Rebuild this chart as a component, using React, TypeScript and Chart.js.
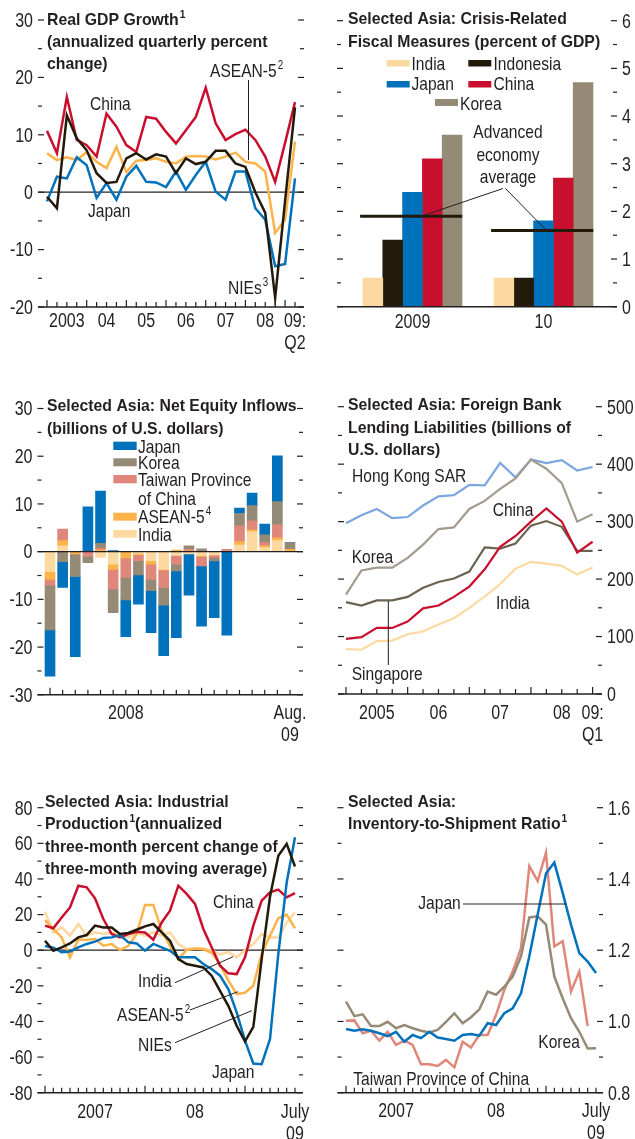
import { useEffect, useRef } from "react";
import { Chart, registerables } from "chart.js";

Chart.register(...registerables);

const SANS = "'Liberation Sans', Arial, sans-serif";
const NARROW_SCALE = 0.82;
const TITLE_SCALE = 0.93;
const INK = "#231f20";

const RED = "#c8102e";
const BLUE = "#0072bc";
const ORANGE = "#fcb34a";
const BLACK = "#231a0c";
const PEACH = "#fdd9a2";
const KOREA = "#958a76";
const TAIWAN = "#e0877b";
const HK = "#7ba7de";
const SING = "#6b6352";
const KOREA_LT = "#a39b8d";

// ---------- Panel 1: Real GDP growth ----------
const gdpQuarters = [
  "2003:Q1", "2003:Q2", "2003:Q3", "2003:Q4", "2004:Q1", "2004:Q2", "2004:Q3", "2004:Q4",
  "2005:Q1", "2005:Q2", "2005:Q3", "2005:Q4", "2006:Q1", "2006:Q2", "2006:Q3", "2006:Q4",
  "2007:Q1", "2007:Q2", "2007:Q3", "2007:Q4", "2008:Q1", "2008:Q2", "2008:Q3", "2008:Q4",
  "2009:Q1", "2009:Q2",
];
const gdpChina = [10.7, 6.8, 16.6, 9.1, 8.2, 6.2, 13.7, 11.4, 8.2, 7.0, 13.1, 12.8, 10.5, 8.5, 10.8, 13.1, 18.2, 12.0, 9.1, 10.1, 10.9, 9.1, 6.2, 1.8, 8.6, 15.7];
const gdpAsean5 = [6.8, 5.6, 6.1, 5.6, 7.0, 5.3, 4.2, 7.9, 3.5, 5.5, 5.6, 5.9, 5.3, 5.0, 6.2, 6.3, 6.2, 5.7, 6.2, 6.9, 5.3, 5.0, 3.6, -7.1, -4.8, 8.8];
const gdpJapan = [-1.6, 2.7, 2.4, 6.1, 4.7, -1.0, 1.6, -1.3, 2.7, 4.6, 1.8, 1.7, 0.9, 3.6, 0.4, 3.0, 5.3, 0.1, -1.3, 3.6, 3.6, -2.8, -4.8, -12.9, -12.5, 2.4];
const gdpNIEs = [-0.8, -2.8, 13.4, 9.4, 7.3, 3.3, 1.6, 1.8, 5.9, 6.8, 5.7, 6.6, 6.2, 3.3, 5.9, 4.9, 5.3, 7.2, 7.2, 5.0, 4.4, 0.0, -3.6, -18.4, -1.5, 14.8];
const gdpYTicks = [-20, -10, 0, 10, 20, 30];
const gdpXLabels = [
  { at: "2003:Q3", text: ["2003"] }, { at: "2004:Q3", text: ["04"] }, { at: "2005:Q3", text: ["05"] },
  { at: "2006:Q3", text: ["06"] }, { at: "2007:Q3", text: ["07"] }, { at: "2008:Q3", text: ["08"] },
  { at: "2009:Q2", text: ["09:", "Q2"] },
];

// ---------- Panel 2: Fiscal measures ----------
const fiscalYears = ["2009", "10"];
const fiscalIndia = [0.6, 0.6];
const fiscalIndonesia = [1.4, 0.6];
const fiscalJapan = [2.4, 1.8];
const fiscalChina = [3.1, 2.7];
const fiscalKorea = [3.6, 4.7];
const fiscalAdvAvg = [1.9, 1.6];
const fiscalYTicks = [0, 1, 2, 3, 4, 5, 6];

// ---------- Panel 3: Net equity inflows ----------
const eqMonths = [
  "Jan 2008", "Feb 2008", "Mar 2008", "Apr 2008", "May 2008", "Jun 2008", "Jul 2008", "Aug 2008",
  "Sep 2008", "Oct 2008", "Nov 2008", "Dec 2008", "Jan 2009", "Feb 2009", "Mar 2009", "Apr 2009",
  "May 2009", "Jun 2009", "Jul 2009", "Aug 2009",
];
const eqIndia = [-4.2, 1.2, 0, 0, -1.2, -2.6, 0, -0.35, -1.9, -3.7, -0.8, -0.5, -0.8, -0.7, 0, 1.4, 4.2, 0.85, 2.3, 0];
const eqAsean5 = [-1.6, 1.1, -0.5, 0, 0.35, -1.1, -1.3, -0.35, -0.7, -0.15, 0.35, 0.15, -0.2, 0, 0, 0.7, 0.35, 0.35, 0.6, 0.5];
const eqTaiwan = [-1.2, 2.45, 0, -1.0, 0.35, -4.1, -4.1, -1.2, -3.2, -3.7, -1.8, 0.35, -2.0, -0.5, 0.5, 3.3, 1.9, 0.7, 2.7, 0];
const eqKorea = [-9.4, -2.1, -4.7, -1.3, 1.05, -5.0, -4.7, -3.0, -2.4, -3.65, -1.45, 0.7, 0.6, -0.75, 0, 2.6, 3.2, 1.6, 4.9, 1.4];
const eqJapan = [-9.7, -5.4, -16.8, 9.4, 10.95, 0.2, -7.7, -6.1, -8.8, -10.6, -14.0, -8.6, -12.6, -11.9, -17.5, 1.15, 2.6, 2.3, 9.6, 0];
const eqYTicks = [-30, -20, -10, 0, 10, 20, 30];
const eqXLabels = [{ at: "Jul 2008", text: ["2008"] }, { at: "Aug 2009", text: ["Aug.", "09"] }];

// ---------- Panel 4: Foreign bank lending liabilities ----------
const lendQuarters = [
  "2005:Q1", "2005:Q2", "2005:Q3", "2005:Q4", "2006:Q1", "2006:Q2", "2006:Q3", "2006:Q4",
  "2007:Q1", "2007:Q2", "2007:Q3", "2007:Q4", "2008:Q1", "2008:Q2", "2008:Q3", "2008:Q4", "2009:Q1",
];
const lendHongKong = [297, 311, 322, 306, 308, 328, 344, 346, 364, 363, 402, 377, 408, 402, 407, 389, 395];
const lendKorea = [173, 215, 220, 220, 237, 260, 287, 290, 322, 336, 357, 375, 408, 392, 367, 300, 313];
const lendChina = [96, 99, 115, 115, 126, 149, 154, 169, 187, 217, 256, 275, 300, 323, 300, 246, 265];
const lendSingapore = [160, 154, 163, 163, 169, 185, 195, 201, 213, 255, 253, 262, 293, 301, 291, 249, 249];
const lendIndia = [78, 77, 92, 93, 104, 109, 121, 132, 150, 170, 191, 218, 230, 227, 223, 208, 220];
const lendYTicks = [0, 100, 200, 300, 400, 500];
const lendXLabels = [
  { at: "2005:Q3", text: ["2005"] }, { at: "2006:Q3", text: ["06"] }, { at: "2007:Q3", text: ["07"] },
  { at: "2008:Q3", text: ["08"] }, { at: "2009:Q1", text: ["09:", "Q1"] },
];

// ---------- Panels 5 & 6: monthly ----------
const months0709 = [
  "Jan 2007", "Feb 2007", "Mar 2007", "Apr 2007", "May 2007", "Jun 2007", "Jul 2007", "Aug 2007",
  "Sep 2007", "Oct 2007", "Nov 2007", "Dec 2007", "Jan 2008", "Feb 2008", "Mar 2008", "Apr 2008",
  "May 2008", "Jun 2008", "Jul 2008", "Aug 2008", "Sep 2008", "Oct 2008", "Nov 2008", "Dec 2008",
  "Jan 2009", "Feb 2009", "Mar 2009", "Apr 2009", "May 2009", "Jun 2009", "Jul 2009",
];
const monthXLabels = [{ at: "Jul 2007", text: ["2007"] }, { at: "Jul 2008", text: ["08"] }, { at: "Jul 2009", text: ["July", "09"] }];

const ipChina = [13.8, 12.3, 18.4, 24.0, 36.2, 35.3, 29.1, 17.5, 9.1, 7.2, 9.1, 10.4, 9.9, 5.9, 15.6, 22.2, 36.2, 31.6, 26.0, 11.9, 1.6, -8.7, -13.0, -13.4, -4.0, 13.8, 27.8, 32.5, 34.0, 29.7, 32.1];
const ipIndia = [21.6, 10.0, 12.8, 8.1, 14.7, 8.1, 10.0, 9.1, 10.0, 9.1, 7.2, 10.0, 8.1, 10.0, 8.1, 10.0, 3.5, 0.7, 1.0, 1.0, 0.1, -2.5, -1.0, -4.0, 0.0, 3.5, 9.1, 7.2, 7.2, 15.6, 21.2];
const ipAsean5 = [16.9, 11.9, 7.2, -4.0, 5.9, 5.9, 6.3, 2.5, 3.5, 0.1, 2.5, 9.1, 25.4, 25.4, 11.0, 2.5, -5.0, 0.1, 1.0, 0.5, -1.5, -7.8, -17.1, -24.6, -23.9, -20.0, -2.0, 8.1, 17.9, 20.0, 12.3];
const ipNIEs = [5.3, -0.3, 1.6, 3.8, 7.2, 8.5, 13.8, 12.8, 12.8, 9.1, 9.7, 11.5, 13.4, 14.7, 10.0, 5.3, -5.0, -7.8, -8.7, -9.7, -14.3, -22.8, -31.2, -42.4, -51.2, -43.0, -5.0, 30.0, 53.0, 59.7, 47.0];
const ipJapan = [2.4, 1.4, -1.2, -0.7, 1.6, 3.5, 4.8, 6.9, 7.2, 8.5, 4.4, 3.8, -0.3, 3.5, 1.6, -0.3, -4.0, -4.0, -4.0, -7.8, -10.6, -14.3, -21.8, -34.9, -50.8, -63.6, -64.0, -49.9, -2.0, 38.0, 63.4];
const ipYTicks = [-80, -60, -40, -20, 0, 20, 40, 60, 80];

const invJapan = [0.979, 0.974, 0.978, 0.974, 0.967, 0.959, 0.971, 0.943, 0.962, 0.953, 0.971, 0.955, 0.951, 0.946, 0.962, 0.965, 0.96, 0.995, 0.99, 1.023, 1.037, 1.079, 1.183, 1.3, 1.415, 1.446, 1.361, 1.272, 1.192, 1.168, 1.136];
const invTaiwan = [1.002, 1.003, 0.967, 0.974, 0.946, 0.971, 0.934, 0.946, 0.934, 0.88, 0.88, 0.875, 0.892, 0.871, 0.943, 0.927, 0.962, 0.962, 1.018, 1.089, 1.14, 1.206, 1.436, 1.394, 1.474, 1.211, 1.225, 1.084, 1.14, 0.987, null];
const invKorea = [1.056, 1.015, 1.02, 0.987, 0.987, 0.999, 0.981, 0.99, 0.981, 0.974, 0.969, 0.976, 0.999, 1.023, 0.995, 1.012, 1.034, 1.084, 1.075, 1.098, 1.126, 1.183, 1.292, 1.295, 1.272, 1.126, 1.065, 1.009, 0.971, 0.924, 0.925];
const invYTicks = [0.8, 1.0, 1.2, 1.4, 1.6];

// ---------- helpers ----------
type Seg = string | { sup: string };
interface TextItem { x: number; y: number; segs: Seg[]; size?: number; bold?: boolean; align?: "left" | "center" }
interface Decor {
  yMajor: number[]; yMinor: number[];
  yLabels: { v: number; t: string }[]; ySide: "left" | "right";
  xTicks: number[]; xTall: number[];
  xLabels: { x: number; lines: string[] }[]; xLabelDy: number;
  zero: boolean; zeroOnTop: boolean;
  texts: TextItem[];
  leaders: number[][];
  swatches: { x: number; y: number; w: number; h: number; color: string }[];
}

const pts = (vals: (number | null)[]) => vals.map((y, i) => ({ x: i, y }));
const mids = (a: number[]) => a.slice(0, -1).map((v, i) => (v + a[i + 1]) / 2);

function lineDs(label: string, vals: (number | null)[], color: string, width = 2.5) {
  return {
    type: "line", label, data: pts(vals), borderColor: color, backgroundColor: color,
    borderWidth: width, pointRadius: 0, tension: 0, fill: false, spanGaps: false,
  };
}

function baseOptions(pad: any, x: [number, number], y: [number, number]) {
  return {
    responsive: false, maintainAspectRatio: false, animation: false, devicePixelRatio: 1, events: [],
    layout: { padding: pad },
    plugins: { legend: { display: false }, tooltip: { enabled: false }, title: { display: false } },
    scales: {
      x: { type: "linear", display: false, min: x[0], max: x[1], offset: false, grid: { offset: false } },
      y: { type: "linear", display: false, min: y[0], max: y[1] },
    },
  };
}

// narrow text: regular sans drawn with a horizontal condensing transform
function narrowText(ctx: CanvasRenderingContext2D, text: string, x: number, y: number, size: number, align: CanvasTextAlign) {
  ctx.save();
  ctx.font = `${size}px ${SANS}`;
  ctx.textAlign = align;
  ctx.textBaseline = "alphabetic";
  ctx.translate(x, y);
  ctx.scale(NARROW_SCALE, 1);
  ctx.fillText(text, 0, 0);
  ctx.restore();
}

function drawRich(ctx: CanvasRenderingContext2D, t: TextItem) {
  const size = t.size ?? 19;
  const bold = !!t.bold;
  const sx = bold ? TITLE_SCALE : NARROW_SCALE;
  const font = (s: number) => `${bold ? "bold " : ""}${s}px ${SANS}`;
  const parts = t.segs.map((s) => (typeof s === "string" ? { s, sup: false } : { s: s.sup, sup: true }));
  const supSize = Math.round(size * 0.62);
  const widths = parts.map((p) => {
    ctx.font = font(p.sup ? supSize : size);
    return ctx.measureText(p.s).width * sx + (p.sup ? 1 : 0);
  });
  const total = widths.reduce((a, b) => a + b, 0);
  let x = t.align === "center" ? t.x - total / 2 : t.x;
  ctx.fillStyle = INK;
  parts.forEach((p, i) => {
    ctx.save();
    ctx.font = font(p.sup ? supSize : size);
    ctx.textAlign = "left";
    ctx.textBaseline = "alphabetic";
    ctx.translate(x + (p.sup ? 1 : 0), p.sup ? t.y - size * 0.4 : t.y);
    ctx.scale(sx, 1);
    ctx.fillText(p.s, 0, 0);
    ctx.restore();
    x += widths[i];
  });
}

function seg(ctx: CanvasRenderingContext2D, x1: number, y1: number, x2: number, y2: number, w: number) {
  ctx.lineWidth = w;
  ctx.beginPath();
  ctx.moveTo(x1, y1);
  ctx.lineTo(x2, y2);
  ctx.stroke();
}

function drawZero(chart: any) {
  const ctx = chart.ctx as CanvasRenderingContext2D;
  const { left, right } = chart.chartArea;
  const y0 = chart.scales.y.getPixelForValue(0);
  ctx.save();
  ctx.strokeStyle = INK;
  seg(ctx, left, y0, right, y0, 1.2);
  ctx.restore();
}

function drawDecor(chart: any, d: Decor) {
  const ctx = chart.ctx as CanvasRenderingContext2D;
  const { left, right, bottom } = chart.chartArea;
  const xs = chart.scales.x;
  const ys = chart.scales.y;
  ctx.save();
  ctx.strokeStyle = INK;
  ctx.fillStyle = INK;
  for (const v of d.yMajor) {
    const y = ys.getPixelForValue(v);
    seg(ctx, left, y, left + 6, y, 1.2);
    seg(ctx, right - 6, y, right, y, 1.2);
  }
  for (const v of d.yMinor) {
    const y = ys.getPixelForValue(v);
    seg(ctx, left, y, left + 4, y, 1.2);
    seg(ctx, right - 4, y, right, y, 1.2);
  }
  seg(ctx, left, bottom, right, bottom, 1.6);
  for (const v of d.xTicks) {
    const x = xs.getPixelForValue(v);
    seg(ctx, x, bottom, x, bottom - (d.xTall.includes(v) ? 7 : 5), 1.2);
  }
  ctx.fillStyle = INK;
  for (const l of d.yLabels) {
    const y = ys.getPixelForValue(l.v);
    if (d.ySide === "left") narrowText(ctx, l.t, left - 5, y + 6.8, 19.5, "right");
    else narrowText(ctx, l.t, right + 5, y + 6.8, 19.5, "left");
  }
  for (const l of d.xLabels) {
    const x = xs.getPixelForValue(l.x);
    l.lines.forEach((t, i) => narrowText(ctx, t, x, bottom + d.xLabelDy + 6.8 + i * 22, 19.5, "center"));
  }
  for (const s of d.swatches) {
    ctx.fillStyle = s.color;
    ctx.fillRect(s.x, s.y, s.w, s.h);
  }
  ctx.strokeStyle = INK;
  for (const l of d.leaders) seg(ctx, l[0], l[1], l[2], l[3], 1);
  for (const t of d.texts) drawRich(ctx, t);
  ctx.restore();
}

function decorPlugin(d: Decor) {
  return {
    id: "decor",
    beforeDatasetsDraw(chart: any) {
      if (d.zero && !d.zeroOnTop) drawZero(chart);
    },
    afterDatasetsDraw(chart: any) {
      if (d.zero && d.zeroOnTop) drawZero(chart);
      drawDecor(chart, d);
    },
  };
}

const indexTicks = (cats: string[]) => cats.map((_, i) => i);
const tallWhere = (cats: string[], f: (c: string) => boolean) => cats.flatMap((c, i) => (f(c) ? [i] : []));
const placeLabels = (cats: string[], labels: { at: string; text: string[] }[]) =>
  labels.map((l) => ({ x: cats.indexOf(l.at), lines: l.text }));

const TS = 17; // title size

// ---------- builders ----------
function buildGdp() {
  const config: any = {
    type: "line",
    data: {
      datasets: [
        lineDs("NIEs", gdpNIEs, BLACK),
        lineDs("Japan", gdpJapan, BLUE),
        lineDs("China", gdpChina, RED),
        lineDs("ASEAN-5", gdpAsean5, ORANGE),
      ],
    },
    options: baseOptions({ left: 38, right: 14, top: 20, bottom: 53 }, [-0.907, 25.907], [-20, 30]),
  };
  const decor: Decor = {
    yMajor: gdpYTicks, yMinor: mids(gdpYTicks),
    yLabels: gdpYTicks.map((v) => ({ v, t: String(v) })), ySide: "left",
    xTicks: indexTicks(gdpQuarters), xTall: tallWhere(gdpQuarters, (q) => q.endsWith("Q1")),
    xLabels: placeLabels(gdpQuarters, gdpXLabels), xLabelDy: 13,
    zero: true, zeroOnTop: false,
    texts: [
      { x: 47, y: 25, segs: ["Real GDP Growth", { sup: "1" }], size: TS, bold: true },
      { x: 47, y: 47, segs: ["(annualized quarterly percent"], size: TS, bold: true },
      { x: 47, y: 69, segs: ["change)"], size: TS, bold: true },
      { x: 90, y: 110, segs: ["China"] },
      { x: 210, y: 76.5, segs: ["ASEAN-5", { sup: "2" }] },
      { x: 88, y: 216.5, segs: ["Japan"] },
      { x: 228, y: 294, segs: ["NIEs", { sup: "3" }] },
    ],
    leaders: [[248.5, 80, 248.5, 160]],
    swatches: [],
  };
  return { config, decor };
}

function buildFiscal() {
  const bar = (label: string, vals: number[], color: string) => ({
    type: "bar", label, data: pts(vals), backgroundColor: color, borderWidth: 0, barThickness: 19.8, order: 1,
  });
  const config: any = {
    type: "bar",
    data: {
      datasets: [
        {
          type: "line", label: "Advanced economy average",
          data: fiscalAdvAvg.flatMap((v, i) => [{ x: i - 0.4, y: v }, { x: i + 0.38, y: v }, { x: i + 0.5, y: null }]),
          borderColor: BLACK, borderWidth: 3, pointRadius: 0, spanGaps: false, order: 0,
        },
        bar("India", fiscalIndia, PEACH),
        bar("Indonesia", fiscalIndonesia, BLACK),
        bar("Japan", fiscalJapan, BLUE),
        bar("China", fiscalChina, RED),
        bar("Korea", fiscalKorea, KOREA),
      ],
    },
    options: baseOptions({ left: 19, right: 18, top: 20.7, bottom: 53.3 }, [-0.5763, 1.5611], [0, 6]),
  };
  const decor: Decor = {
    yMajor: fiscalYTicks, yMinor: mids(fiscalYTicks),
    yLabels: fiscalYTicks.map((v) => ({ v, t: String(v) })), ySide: "right",
    xTicks: [], xTall: [],
    xLabels: fiscalYears.map((t, i) => ({ x: i, lines: [t] })), xLabelDy: 14,
    zero: false, zeroOnTop: false,
    texts: [
      { x: 30, y: 23.5, segs: ["Selected Asia: Crisis-Related"], size: TS, bold: true },
      { x: 30, y: 46.5, segs: ["Fiscal Measures (percent of GDP)"], size: TS, bold: true },
      { x: 93.5, y: 70, segs: ["India"] },
      { x: 175.5, y: 70, segs: ["Indonesia"] },
      { x: 93.5, y: 90, segs: ["Japan"] },
      { x: 175.5, y: 90, segs: ["China"] },
      { x: 142, y: 110, segs: ["Korea"] },
      { x: 190, y: 138, segs: ["Advanced"], align: "center" },
      { x: 190, y: 161, segs: ["economy"], align: "center" },
      { x: 190, y: 183, segs: ["average"], align: "center" },
    ],
    leaders: [[185, 188.5, 102, 216.7], [187.5, 188.5, 228.7, 230.7]],
    swatches: [
      { x: 68.7, y: 60, w: 23, h: 6.5, color: PEACH },
      { x: 150.3, y: 60, w: 23, h: 6.5, color: BLACK },
      { x: 68.7, y: 81, w: 23, h: 6.5, color: BLUE },
      { x: 150.3, y: 81, w: 23, h: 6.5, color: RED },
      { x: 117, y: 99, w: 23, h: 7, color: KOREA },
    ],
  };
  return { config, decor };
}

function buildEquity() {
  const sbar = (label: string, vals: number[], color: string) => ({
    type: "bar", label, data: pts(vals), backgroundColor: color, borderWidth: 0, barThickness: 10,
  });
  const options: any = baseOptions({ left: 37.5, right: 15, top: 48.5, bottom: 65.2 }, [-0.99, 20.03], [-30, 30]);
  options.scales.x.stacked = true;
  options.scales.y.stacked = true;
  const config: any = {
    type: "bar",
    data: {
      datasets: [
        sbar("India", eqIndia, PEACH),
        sbar("ASEAN-5", eqAsean5, ORANGE),
        sbar("Taiwan Province of China", eqTaiwan, TAIWAN),
        sbar("Korea", eqKorea, KOREA),
        sbar("Japan", eqJapan, BLUE),
      ],
    },
    options,
  };
  const decor: Decor = {
    yMajor: eqYTicks, yMinor: mids(eqYTicks),
    yLabels: eqYTicks.map((v) => ({ v, t: String(v) })), ySide: "left",
    xTicks: indexTicks(eqMonths), xTall: tallWhere(eqMonths, (m) => m.startsWith("Jan")),
    xLabels: placeLabels(eqMonths, eqXLabels), xLabelDy: 17,
    zero: true, zeroOnTop: true,
    texts: [
      { x: 47, y: 51, segs: ["Selected Asia: Net Equity Inflows"], size: TS, bold: true },
      { x: 47, y: 73.5, segs: ["(billions of U.S. dollars)"], size: TS, bold: true },
      { x: 138, y: 92.7, segs: ["Japan"] },
      { x: 138, y: 109, segs: ["Korea"] },
      { x: 138, y: 126, segs: ["Taiwan Province"] },
      { x: 138, y: 145, segs: ["of China"] },
      { x: 138, y: 162.5, segs: ["ASEAN-5", { sup: "4" }] },
      { x: 138, y: 180.5, segs: ["India"] },
    ],
    leaders: [],
    swatches: [
      { x: 113.3, y: 81.7, w: 23.4, h: 8.3, color: BLUE },
      { x: 113.3, y: 98.3, w: 23.4, h: 8, color: KOREA },
      { x: 113.3, y: 115, w: 23.4, h: 8.3, color: TAIWAN },
      { x: 113.3, y: 152.7, w: 23.4, h: 8, color: ORANGE },
      { x: 113.3, y: 170, w: 23.4, h: 7.7, color: PEACH },
    ],
  };
  return { config, decor };
}

function buildLending() {
  const config: any = {
    type: "line",
    data: {
      datasets: [
        lineDs("China", lendChina, RED, 2.2),
        lineDs("Singapore", lendSingapore, SING, 2.2),
        lineDs("India", lendIndia, PEACH, 2.2),
        lineDs("Korea", lendKorea, KOREA_LT, 2.2),
        lineDs("Hong Kong SAR", lendHongKong, HK, 2.2),
      ],
    },
    options: baseOptions({ left: 20, right: 33, top: 46.7, bottom: 66 }, [-0.519, 16.61], [0, 500]),
  };
  const decor: Decor = {
    yMajor: lendYTicks, yMinor: mids(lendYTicks),
    yLabels: lendYTicks.map((v) => ({ v, t: String(v) })), ySide: "right",
    xTicks: indexTicks(lendQuarters), xTall: tallWhere(lendQuarters, (q) => q.endsWith("Q1")),
    xLabels: placeLabels(lendQuarters, lendXLabels), xLabelDy: 18,
    zero: false, zeroOnTop: false,
    texts: [
      { x: 30, y: 50, segs: ["Selected Asia: Foreign Bank"], size: TS, bold: true },
      { x: 30, y: 72.5, segs: ["Lending Liabilities (billions of"], size: TS, bold: true },
      { x: 30, y: 95, segs: ["U.S. dollars)"], size: TS, bold: true },
      { x: 34, y: 121.7, segs: ["Hong Kong SAR"] },
      { x: 174.7, y: 156, segs: ["China"] },
      { x: 33.7, y: 202.7, segs: ["Korea"] },
      { x: 178, y: 249.3, segs: ["India"] },
      { x: 33.7, y: 320, segs: ["Singapore"] },
    ],
    leaders: [[70.3, 241, 70.3, 305]],
    swatches: [],
  };
  return { config, decor };
}

function buildIndustrial() {
  const config: any = {
    type: "line",
    data: {
      datasets: [
        lineDs("NIEs", ipNIEs, BLACK),
        lineDs("Japan", ipJapan, BLUE),
        lineDs("China", ipChina, RED),
        lineDs("ASEAN-5", ipAsean5, ORANGE),
        lineDs("India", ipIndia, PEACH),
      ],
    },
    options: baseOptions({ left: 37.5, right: 15, top: 47.7, bottom: 46.3 }, [-0.9, 30.96], [-80, 80]),
  };
  const decor: Decor = {
    yMajor: ipYTicks, yMinor: mids(ipYTicks),
    yLabels: ipYTicks.map((v) => ({ v, t: String(v) })), ySide: "left",
    xTicks: indexTicks(months0709), xTall: tallWhere(months0709, (m) => m.startsWith("Jan")),
    xLabels: placeLabels(months0709, monthXLabels), xLabelDy: 18,
    zero: true, zeroOnTop: false,
    texts: [
      { x: 45, y: 46.5, segs: ["Selected Asia: Industrial"], size: TS, bold: true },
      { x: 45, y: 69, segs: ["Production", { sup: "1" }, "(annualized"], size: TS, bold: true },
      { x: 45, y: 91.5, segs: ["three-month percent change of"], size: TS, bold: true },
      { x: 45, y: 114, segs: ["three-month moving average)"], size: TS, bold: true },
      { x: 213, y: 147.7, segs: ["China"] },
      { x: 138, y: 226.7, segs: ["India"] },
      { x: 117, y: 261, segs: ["ASEAN-5", { sup: "2" }] },
      { x: 138, y: 291, segs: ["NIEs"] },
      { x: 212, y: 318.3, segs: ["Japan"] },
    ],
    leaders: [[175, 222.7, 233, 196.7], [190, 250, 238, 231.7], [175, 282.7, 251.7, 250.7]],
    swatches: [],
  };
  return { config, decor };
}

function buildInventory() {
  const config: any = {
    type: "line",
    data: {
      datasets: [
        lineDs("Japan", invJapan, BLUE),
        lineDs("Korea", invKorea, KOREA),
        lineDs("Taiwan Province of China", invTaiwan, TAIWAN),
      ],
    },
    options: baseOptions({ left: 19.5, right: 32, top: 47.7, bottom: 46.3 }, [-1.02, 30.84], [0.8, 1.6]),
  };
  const decor: Decor = {
    yMajor: invYTicks, yMinor: mids(invYTicks),
    yLabels: invYTicks.map((v) => ({ v, t: v.toFixed(1) })), ySide: "right",
    xTicks: indexTicks(months0709), xTall: tallWhere(months0709, (m) => m.startsWith("Jan")),
    xLabels: placeLabels(months0709, monthXLabels), xLabelDy: 17.5,
    zero: false, zeroOnTop: false,
    texts: [
      { x: 30, y: 46.5, segs: ["Selected Asia:"], size: TS, bold: true },
      { x: 30, y: 69, segs: ["Inventory-to-Shipment Ratio", { sup: "1" }], size: TS, bold: true },
      { x: 100.3, y: 149, segs: ["Japan"] },
      { x: 220.3, y: 287.7, segs: ["Korea"] },
      { x: 35.3, y: 325, segs: ["Taiwan Province of China"] },
    ],
    leaders: [[145, 144, 248, 144]],
    swatches: [],
  };
  return { config, decor };
}

function Panel({ left, top, width, height, build }: { left: number; top: number; width: number; height: number; build: () => { config: any; decor: Decor } }) {
  const ref = useRef<HTMLCanvasElement>(null);
  useEffect(() => {
    const { config, decor } = build();
    config.plugins = [decorPlugin(decor)];
    const chart = new Chart(ref.current as HTMLCanvasElement, config);
    return () => chart.destroy();
  }, [build]);
  return (
    <canvas
      ref={ref}
      width={width}
      height={height}
      style={{ position: "absolute", left, top, width, height, display: "block" }}
    />
  );
}

export default function App() {
  return (
    <div style={{ position: "absolute", left: 0, top: 0, width: 635, height: 1139, background: "#fff", overflow: "hidden" }}>
      <Panel left={0} top={0} width={318} height={360} build={buildGdp} />
      <Panel left={318} top={0} width={317} height={360} build={buildFiscal} />
      <Panel left={0} top={360} width={318} height={400} build={buildEquity} />
      <Panel left={318} top={360} width={317} height={400} build={buildLending} />
      <Panel left={0} top={760} width={318} height={379} build={buildIndustrial} />
      <Panel left={318} top={760} width={317} height={379} build={buildInventory} />
    </div>
  );
}
